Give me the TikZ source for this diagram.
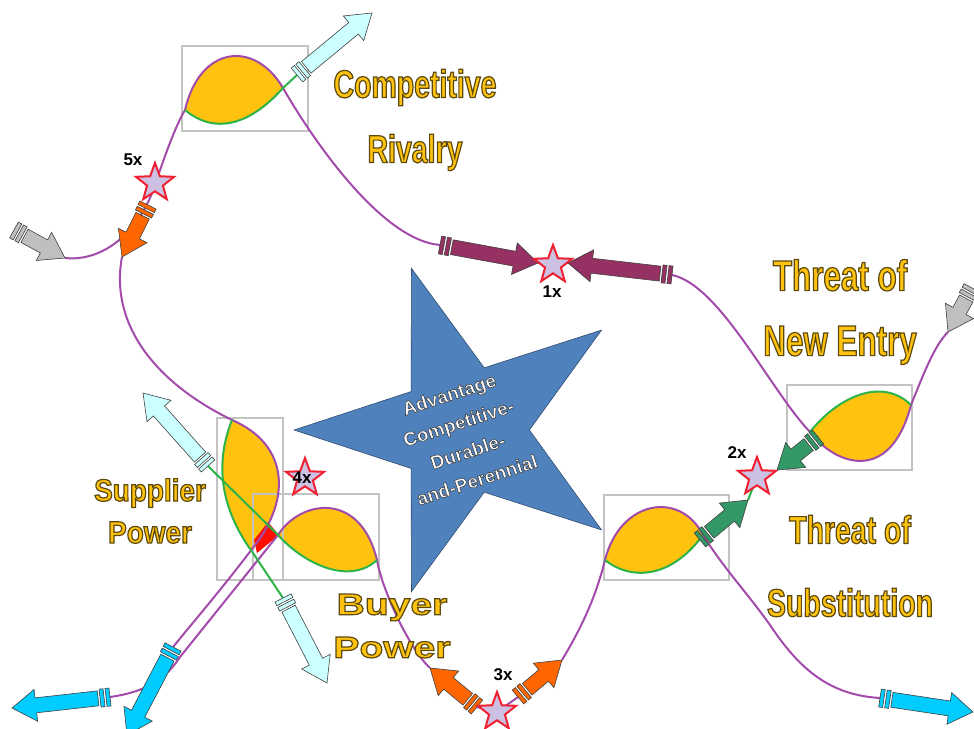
\documentclass[tikz,border=0pt]{standalone}
\usepackage{fontspec}
\setmainfont{Liberation Sans}
\newfontfamily\labfont{Liberation Sans}[FakeStretch=0.73]
\newfontfamily\midfont{Liberation Sans}[FakeStretch=0.9]
\newfontfamily\widefont{Liberation Sans}[FakeStretch=1.3]
\usetikzlibrary{positioning, calc, shapes.geometric}

\definecolor{leafcol}{HTML}{FFC20E}
\definecolor{vinecol}{HTML}{A24BAA}
\definecolor{stemcol}{HTML}{2DB34A}
\definecolor{framecol}{HTML}{C3C3C3}
\definecolor{sparkcol}{HTML}{CCC1E2}
\definecolor{sparkred}{HTML}{F02030}
\definecolor{corecol}{HTML}{4F81BD}
\definecolor{maroon}{HTML}{953163}
\definecolor{orangecol}{HTML}{FF6600}
\definecolor{greycol}{HTML}{BFBFBF}
\definecolor{palecyan}{HTML}{CCFFFF}
\definecolor{cyancol}{HTML}{00CCFF}
\definecolor{greencol}{HTML}{339966}

% block arrow with two rings at its tail: colour, tail, tip
\newcommand{\blockarrow}[3]{%
  \coordinate (ba-s) at (#2);
  \coordinate (ba-e) at (#3);
  \coordinate (ba-a) at ($(ba-s)!12pt!(ba-e)$);
  \coordinate (ba-h) at ($(ba-e)!24pt!(ba-s)$);
  \filldraw[fill=#1, draw=black!75, line width=0.6pt]
    ($(ba-a)!7.5pt!90:(ba-e)$) -- ($(ba-h)!7.5pt!90:(ba-e)$) -- ($(ba-h)!16pt!90:(ba-e)$)
    -- (ba-e) -- ($(ba-h)!16pt!-90:(ba-e)$) -- ($(ba-h)!7.5pt!-90:(ba-e)$)
    -- ($(ba-a)!7.5pt!-90:(ba-e)$) -- cycle;
  \foreach \p/\q in {0pt/4pt, 6pt/10pt} {
    \coordinate (ba-p) at ($(ba-s)!\p!(ba-e)$);
    \coordinate (ba-q) at ($(ba-s)!\q!(ba-e)$);
    \filldraw[fill=#1, draw=black!75, line width=0.6pt]
      ($(ba-p)!9pt!90:(ba-e)$) -- ($(ba-q)!9pt!90:(ba-e)$)
      -- ($(ba-q)!9pt!-90:(ba-e)$) -- ($(ba-p)!9pt!-90:(ba-e)$) -- cycle;
  }
}
% outlined text (fill and stroke)
\newcommand{\rim}[1]{\special{pdf:literal direct 2 Tr 1.2 w 0.36 0.29 0.06 RG}#1\special{pdf:literal direct 0 Tr}}
\newcommand{\rimgrey}[1]{\special{pdf:literal direct 2 Tr 0.6 w 0.25 0.25 0.25 RG}#1\special{pdf:literal direct 0 Tr}}

\begin{document}
\begin{tikzpicture}[x=1pt, y=-1pt,
    vine/.style={draw=vinecol, line width=2pt},
    stem/.style={draw=stemcol, line width=2pt},
    leaf/.style={fill=leafcol},
    frame/.style={draw=framecol, line width=2.5pt},
    spark/.style={star, star points=5, star point ratio=2.4, minimum size=40pt,
      inner sep=0pt, fill=sparkcol, draw=sparkred, line width=2pt},
    tag/.style={font=\bfseries\fontsize{17}{17}\selectfont},
    lab/.style={text=leafcol, align=center, font=\labfont\bfseries\fontsize{39}{65}\selectfont}
  ]
  \useasboundingbox (0,0) rectangle (974,728);

  % centre star
  \node[star, star points=5, star point ratio=2.6, minimum size=340pt, inner sep=0pt,
    shape border rotate=90, fill=corecol, draw=corecol!60!black, line width=0.6pt]
    (core) at (464,430) {};
  \node[rotate=18, text=white, align=center, font=\bfseries\fontsize{19}{30}\selectfont]
    (coretext) at (463,437)
    {\rimgrey{Advantage}\\\rimgrey{Competitive-}\\\rimgrey{Durable-}\\\rimgrey{and-Perennial}};

  % lens points
  \coordinate (r-l) at (185,110);
  \coordinate (r-x) at (283,88);
  \coordinate (s-t) at (232,420);
  \coordinate (s-b) at (255,545);
  \coordinate (s-g) at (253,553);
  \coordinate (b-x) at (278,535);
  \coordinate (b-r) at (377,560);
  \coordinate (n-x) at (810,432);
  \coordinate (n-r) at (911,405);
  \coordinate (t-l) at (605,560);
  \coordinate (t-x) at (703,535);

  % arrow ends (tail, tip)
  \coordinate (lc1-s) at (297,75);   \coordinate (lc1-e) at (372,13);
  \coordinate (gy1-s) at (14,230);   \coordinate (gy1-e) at (65,258);
  \coordinate (or5-s) at (148,205);  \coordinate (or5-e) at (122,257);
  \coordinate (mr1-s) at (440,245);  \coordinate (mr1-e) at (538,263);
  \coordinate (mr2-s) at (672,275);  \coordinate (mr2-e) at (568,263);
  \coordinate (gy2-s) at (972,288);  \coordinate (gy2-e) at (948,332);
  \coordinate (gr1-s) at (818,437);  \coordinate (gr1-e) at (777,470);
  \coordinate (gr2-s) at (700,540);  \coordinate (gr2-e) at (748,500);
  \coordinate (lc2-s) at (208,466);  \coordinate (lc2-e) at (143,393);
  \coordinate (lc3-s) at (283,598);  \coordinate (lc3-e) at (327,683);
  \coordinate (cy1-s) at (173,647);  \coordinate (cy1-e) at (127,735);
  \coordinate (cy2-s) at (110,697);  \coordinate (cy2-e) at (12,708);
  \coordinate (cy3-s) at (880,698);  \coordinate (cy3-e) at (973,712);
  \coordinate (or3a-s) at (477,707); \coordinate (or3a-e) at (430,668);
  \coordinate (or3b-s) at (518,697); \coordinate (or3b-e) at (562,660);

  % yellow lenses
  \fill[leaf] (r-l) .. controls (200,45) and (255,40) .. (r-x)
    .. controls (250,125) and (215,135) .. (r-l) -- cycle;
  \fill[leaf] (s-t) .. controls (290,445) and (290,500) .. (s-b) -- (s-g)
    .. controls (225,515) and (212,470) .. (s-t) -- cycle;
  \fill[leaf] (b-x) .. controls (300,500) and (360,490) .. (b-r)
    .. controls (350,585) and (305,565) .. (b-x) -- cycle;
  \fill[leaf] (n-x) .. controls (835,465) and (890,485) .. (n-r)
    .. controls (880,375) and (835,400) .. (n-x) -- cycle;
  \fill[leaf] (t-l) .. controls (620,500) and (680,490) .. (t-x)
    .. controls (670,580) and (630,580) .. (t-l) -- cycle;
  \fill[red!90!orange] (268,522) -- (279,535) -- (257,553) -- (254,540) -- cycle;

  % frames
  \draw[frame] (182,46) rectangle (308,131);
  \draw[frame] (217,418) rectangle (283,580);
  \draw[frame] (253,494) rectangle (379,580);
  \draw[frame] (787,385) rectangle (912,470);
  \draw[frame] (604,495) rectangle (729,580);

  % purple vines
  \draw[vine] (gy1-e) .. controls (105,262) and (140,230) .. (155,185)
    .. controls (165,155) and (176,125) .. (r-l)
    .. controls (200,45) and (255,40) .. (r-x)
    .. controls (310,135) and (380,240) .. (mr1-s);
  \draw[vine] (or5-e) .. controls (110,320) and (150,380) .. (s-t)
    .. controls (290,445) and (290,500) .. (s-b)
    .. controls (225,585) and (195,620) .. (cy1-s);
  \draw[vine] (cy2-s) .. controls (145,692) and (165,680) .. (180,657) -- (b-x)
    .. controls (300,500) and (360,490) .. (b-r)
    .. controls (382,590) and (410,650) .. (or3a-e);
  \draw[vine] (or3b-e) .. controls (580,630) and (595,600) .. (t-l)
    .. controls (620,500) and (680,490) .. (t-x)
    .. controls (725,570) and (745,590) .. (770,625)
    .. controls (800,670) and (830,695) .. (cy3-s);
  \draw[vine] (mr2-s) .. controls (720,285) and (770,390) .. (n-x)
    .. controls (835,465) and (890,485) .. (n-r)
    .. controls (925,370) and (935,345) .. (gy2-e);
  \draw[vine] (mr1-e) -- (mr2-e);
  \draw[vine] (or3a-s) -- (497,712) -- (or3b-s);

  % green stems
  \draw[stem] (r-l) .. controls (215,135) and (250,125) .. (r-x) -- (lc1-s);
  \draw[stem] (s-t) .. controls (212,470) and (225,515) .. (s-g) -- (lc3-s);
  \draw[stem] (lc2-s) -- (b-x) .. controls (305,565) and (350,585) .. (b-r);
  \draw[stem] (n-r) .. controls (880,375) and (835,400) .. (n-x) -- (gr1-s);
  \draw[stem] (t-l) .. controls (630,580) and (670,580) .. (t-x) -- (gr2-s);
  \draw[stem] (757,477) -- (gr2-e);

  % block arrows
  \blockarrow{palecyan}{lc1-s}{lc1-e}
  \blockarrow{greycol}{gy1-s}{gy1-e}
  \blockarrow{orangecol}{or5-s}{or5-e}
  \blockarrow{maroon}{mr1-s}{mr1-e}
  \blockarrow{maroon}{mr2-s}{mr2-e}
  \blockarrow{greycol}{gy2-s}{gy2-e}
  \blockarrow{greencol}{gr1-s}{gr1-e}
  \blockarrow{greencol}{gr2-s}{gr2-e}
  \blockarrow{palecyan}{lc2-s}{lc2-e}
  \blockarrow{palecyan}{lc3-s}{lc3-e}
  \blockarrow{cyancol}{cy1-s}{cy1-e}
  \blockarrow{cyancol}{cy2-s}{cy2-e}
  \blockarrow{cyancol}{cy3-s}{cy3-e}
  \blockarrow{orangecol}{or3a-s}{or3a-e}
  \blockarrow{orangecol}{or3b-s}{or3b-e}

  % stars and counts
  \node[spark] (s5) at (155,183) {};
  \node[spark] (s1) at (553,265) {};
  \node[spark] (s4) at (305,478) {};
  \node[spark] (s2) at (757,477) {};
  \node[spark] (s3) at (497,712) {};
  \node[tag] (t5) at (133,160) {5x};
  \node[tag] (t1) at (552,292) {1x};
  \node[tag] (t4) at (302,478) {4x};
  \node[tag] (t2) at (737,453) {2x};
  \node[tag] (t3) at (503,675) {3x};

  % forces
  \node[lab] (rivalry) at (415,120) {\rim{Competitive}\\\rim{Rivalry}};
  \node[lab, font=\labfont\bfseries\fontsize{43}{65}\selectfont] (entry) at (840,312)
    {\rim{Threat of}\\\rim{New Entry}};
  \node[lab, font=\labfont\bfseries\fontsize{39}{73}\selectfont] (subst) at (850,566)
    {\rim{Threat of}\\\rim{Substitution}};
  \node[lab, font=\midfont\bfseries\fontsize{31}{42}\selectfont] (supplier) at (150,511)
    {\rim{Supplier}\\\rim{Power}};
  \node[lab, font=\widefont\bfseries\fontsize{30}{43}\selectfont] (buyer) at (392,626)
    {\rim{Buyer}\\\rim{Power}};

\end{tikzpicture}
\end{document}
